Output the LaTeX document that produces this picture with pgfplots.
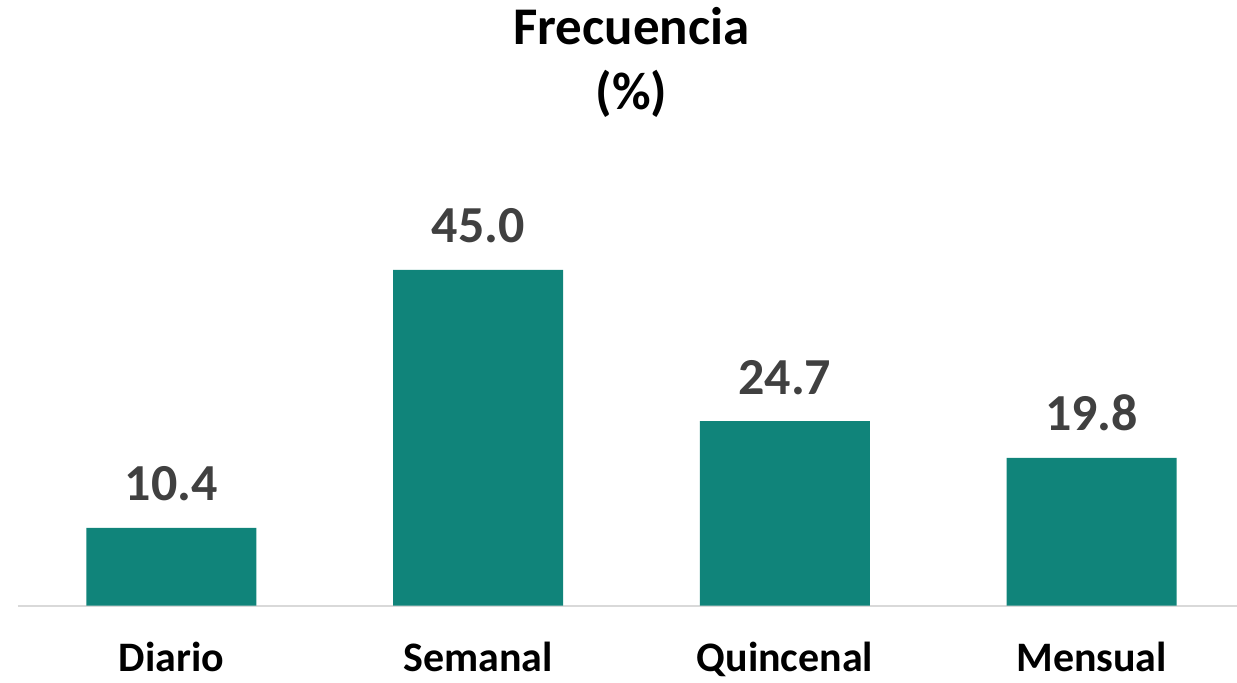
\documentclass[border=0pt]{standalone}
\usepackage{pgfplots}
\pgfplotsset{compat=1.18}
\usepackage{fontspec}
\setmainfont{Carlito}
\definecolor{barc}{HTML}{10847A}
\definecolor{lbl}{HTML}{404040}
\definecolor{axc}{HTML}{D9D9D9}
\begin{document}
\begin{tikzpicture}
\begin{axis}[
  width=614pt, height=228pt, scale only axis,
  xmin=-0.5, xmax=3.5, ymin=0, ymax=61.07,
  axis y line=none,
  axis x line*=bottom,
  x axis line style={draw=axc, line width=1pt, -},
  xtick=data, xticklabels={Diario,Semanal,Quincenal,Mensual},
  major tick length=0pt,
  xticklabel style={font=\fontsize{21}{25}\selectfont\bfseries, text=black, anchor=base, yshift=-33pt},
  ybar, bar width=85pt,
  nodes near coords,
  nodes near coords align={vertical},
  every node near coord/.append style={font=\fontsize{26}{30}\selectfont\bfseries, text=lbl, anchor=base, inner sep=0pt, yshift=13.5pt},
  point meta=explicit symbolic,
  clip=false,
]
\addplot[fill=barc, draw=none] table[meta=label] {
x y label
0 10.4 10.4
1 45.0 45.0
2 24.7 24.7
3 19.8 19.8
};
\node[anchor=base, inner sep=0pt, font=\fontsize{26.5}{30}\selectfont\bfseries] at ([yshift=52.5pt]rel axis cs:0.5,1) {Frecuencia};
\node[anchor=base, inner sep=0pt, font=\fontsize{26.5}{30}\selectfont\bfseries] at ([yshift=20pt]rel axis cs:0.5,1) {(\%)};
\coordinate (bl) at (rel axis cs:0,0);
\coordinate (tr) at (rel axis cs:1,1);
\end{axis}
\pgfresetboundingbox
\path[use as bounding box] ([xshift=-9pt,yshift=-38.5pt]bl) rectangle ([xshift=-4pt,yshift=75pt]tr);
\end{tikzpicture}
\end{document}
